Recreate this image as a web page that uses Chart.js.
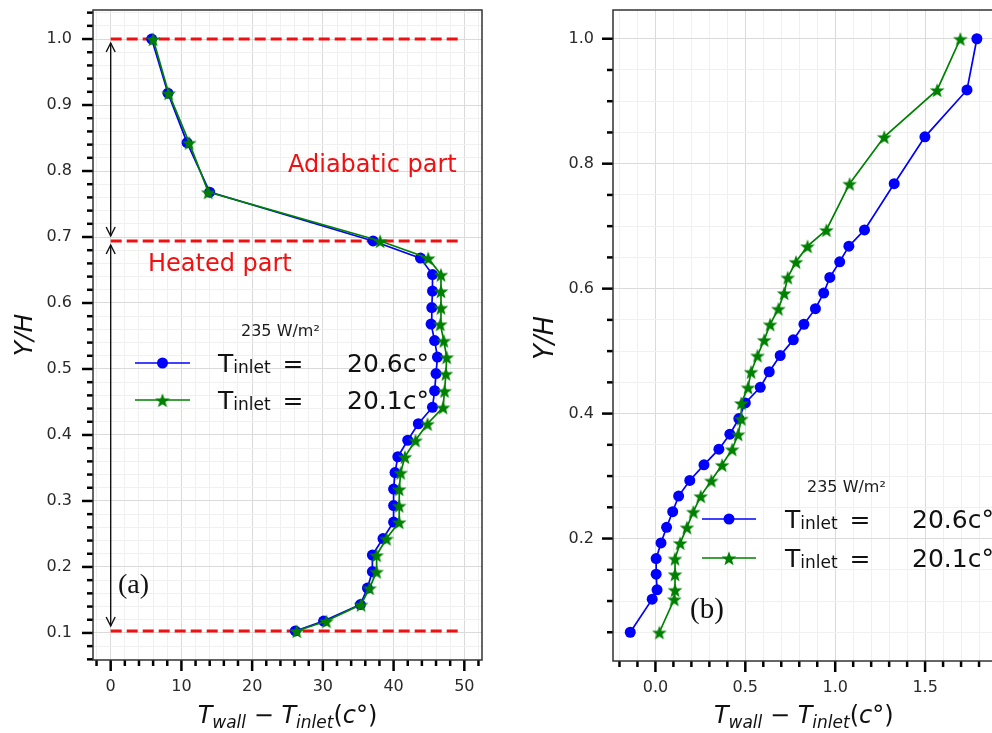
<!DOCTYPE html>
<html>
<head>
<meta charset="utf-8">
<script src="https://cdn.jsdelivr.net/npm/chart.js@4.4.1/dist/chart.umd.min.js"></script>
<style>
  html, body { margin: 0; padding: 0; background: #fff; overflow: hidden; }
  .wrap { position: absolute; top: 0; width: 500px; height: 733px; }
  #wrapA { left: 0; }
  #wrapB { left: 500px; }
</style>
</head>
<body>
<div class="wrap" id="wrapA"><canvas id="chartA"></canvas></div>
<div class="wrap" id="wrapB"><canvas id="chartB"></canvas></div>
<script>
// panel (a): Y/H stations and wall temperature rise
const yA = [0.103, 0.118, 0.143, 0.168, 0.193, 0.218, 0.243, 0.268, 0.293, 0.318,
  0.343, 0.367, 0.392, 0.417, 0.442, 0.467, 0.493, 0.518, 0.543, 0.568,
  0.593, 0.618, 0.643, 0.668, 0.694, 0.768, 0.843, 0.918, 1.0];
const blueA = [26.1, 30.1, 35.3, 36.3, 37.0, 37.0, 38.5, 40.0, 40.0, 40.0,
  40.2, 40.6, 42.0, 43.5, 45.5, 45.8, 46.0, 46.2, 45.8, 45.3,
  45.4, 45.5, 45.5, 43.8, 37.1, 14.0, 10.8, 8.1, 5.8];
const greenA = [26.3, 30.5, 35.4, 36.6, 37.6, 37.6, 39.0, 40.8, 40.8, 40.8,
  41.0, 41.6, 43.1, 44.8, 47.0, 47.2, 47.4, 47.5, 47.1, 46.6,
  46.7, 46.7, 46.7, 44.9, 38.1, 13.8, 11.1, 8.2, 6.0];

// panel (b)
const yB = [0.05, 0.103, 0.118, 0.143, 0.168, 0.193, 0.218, 0.243, 0.268, 0.293, 0.318,
  0.343, 0.367, 0.392, 0.417, 0.442, 0.467, 0.493, 0.518, 0.543, 0.568,
  0.593, 0.618, 0.643, 0.668, 0.694, 0.768, 0.843, 0.918, 1.0];
const blueB = [-0.140, -0.018, 0.009, 0.004, 0.004, 0.031, 0.062, 0.096, 0.129, 0.191, 0.270,
  0.353, 0.414, 0.464, 0.500, 0.583, 0.633, 0.694, 0.767, 0.826, 0.890,
  0.936, 0.970, 1.025, 1.076, 1.163, 1.328, 1.499, 1.733, 1.788];
const greenB = [0.022, 0.105, 0.109, 0.109, 0.109, 0.138, 0.175, 0.211, 0.252, 0.311, 0.371,
  0.427, 0.460, 0.478, 0.478, 0.515, 0.532, 0.568, 0.605, 0.638, 0.684,
  0.716, 0.736, 0.782, 0.846, 0.951, 1.080, 1.273, 1.567, 1.696];

// section boundaries (adiabatic / heated) in panel (a)
const boundaryY = [1.0, 0.694, 0.103];
const boundaryX = [0, 49.5];

// tick labels
const xMajorA = [0, 10, 20, 30, 40, 50];
const yMajorA = [0.1, 0.2, 0.3, 0.4, 0.5, 0.6, 0.7, 0.8, 0.9, 1.0];
const xMajorB = [0.0, 0.5, 1.0, 1.5];
const yMajorB = [0.2, 0.4, 0.6, 0.8, 1.0];

const fluxLabel = '235 W/m²';
const inletLabels = ['20.6c°', '20.1c°'];

const BLUE = '#0000ff';
const GREEN = '#008000';
const RED = '#f01010';
const FONT = "'DejaVu Sans'";

function steps(from, to, step) {
  const out = [];
  const n = Math.round((to - from) / step);
  for (let i = 0; i <= n; i++) out.push(+(from + i * step).toFixed(4));
  return out;
}
function isMajor(v, major) {
  return major.some(m => Math.abs(m - v) < 1e-6);
}

// filled 5-point star like matplotlib '*'
function starImage(color, size) {
  const c = document.createElement('canvas');
  c.width = c.height = size;
  const g = c.getContext('2d');
  const R = size / 2 - 0.3, r = R * 0.42, m = size / 2;
  g.beginPath();
  for (let i = 0; i < 10; i++) {
    const rad = i % 2 ? r : R;
    const ang = -Math.PI / 2 + i * Math.PI / 5;
    g.lineTo(m + rad * Math.cos(ang), m + 1 + rad * Math.sin(ang));
  }
  g.closePath();
  g.fillStyle = color;
  g.fill();
  return c;
}
const star = starImage(GREEN, 16);

function axis(min, max, minor, major, fmt, pad, size, isX) {
  return {
    type: 'linear', min, max,
    afterBuildTicks: s => { s.ticks = minor.filter(v => v >= min && v <= max).map(v => ({ value: v })); },
    afterFit: s => {
      if (isX) s.height = size; else s.width = size;
      s.paddingTop = s.paddingBottom = s.paddingLeft = s.paddingRight = 0;
    },
    grid: {
      drawTicks: false,
      lineWidth: 1,
      color: c => (c.tick && isMajor(c.tick.value, major)) ? '#dadada' : '#f0f0f0'
    },
    border: { display: false },
    ticks: {
      autoSkip: false, maxRotation: 0, padding: pad, color: '#2a2a2a',
      font: { family: FONT, size: 16 },
      callback: v => isMajor(v, major) ? fmt(v) : ''
    }
  };
}

// spines + major/minor tick marks
function framePlugin(xMajor, yMajor) {
  return {
    id: 'frame',
    afterDraw(chart) {
      const { ctx, chartArea: a, scales: { x, y } } = chart;
      ctx.save();
      ctx.strokeStyle = '#000';
      ctx.lineWidth = 2.5;
      x.ticks.forEach(t => {
        const p = x.getPixelForValue(t.value);
        const len = isMajor(t.value, xMajor) ? 11 : 6;
        ctx.beginPath(); ctx.moveTo(p, a.bottom); ctx.lineTo(p, a.bottom + len); ctx.stroke();
      });
      y.ticks.forEach(t => {
        const p = y.getPixelForValue(t.value);
        const len = isMajor(t.value, yMajor) ? 11 : 6;
        ctx.beginPath(); ctx.moveTo(a.left, p); ctx.lineTo(a.left - len, p); ctx.stroke();
      });
      ctx.strokeStyle = '#333';
      ctx.lineWidth = 1.5;
      ctx.strokeRect(a.left, a.top, a.right - a.left, a.bottom - a.top);
      ctx.restore();
    }
  };
}

function drawParts(ctx, parts, cx, base, size) {
  const font = p => `${p.it ? 'italic ' : ''}${p.sub ? Math.round(size * 0.7) : size}px ${FONT}`;
  let w = 0;
  parts.forEach(p => { ctx.font = font(p); p.w = ctx.measureText(p.t).width; w += p.w; });
  let x = cx - w / 2;
  ctx.textAlign = 'left';
  ctx.textBaseline = 'alphabetic';
  parts.forEach(p => { ctx.font = font(p); ctx.fillText(p.t, x, base + (p.sub ? 5 : 0)); x += p.w; });
}

function titles(chart, yx, yy, ySize) {
  const { ctx, chartArea: a } = chart;
  ctx.save();
  ctx.fillStyle = '#111';
  drawParts(ctx, [
    { t: 'T', it: 1 }, { t: 'wall', it: 1, sub: 1 }, { t: ' − ' },
    { t: 'T', it: 1 }, { t: 'inlet', it: 1, sub: 1 }, { t: '(' }, { t: 'c', it: 1 }, { t: '°)' }
  ], (a.left + a.right) / 2, 723, 24);
  ctx.translate(yx, yy);
  ctx.rotate(-Math.PI / 2);
  ctx.font = `italic ${ySize}px ${FONT}`;
  ctx.textAlign = 'center';
  ctx.textBaseline = 'middle';
  ctx.fillText('Y/H', 0, 0);
  ctx.restore();
}

function legend(chart, L) {
  const ctx = chart.ctx;
  ctx.save();
  ctx.fillStyle = '#1a1a1a';
  ctx.font = `16px ${FONT}`;
  ctx.textAlign = 'left';
  ctx.textBaseline = 'alphabetic';
  ctx.fillText(fluxLabel, L.titleX, L.titleBase);
  [BLUE, GREEN].forEach((col, i) => {
    const yc = L.rows[i];
    ctx.strokeStyle = col;
    ctx.lineWidth = 1.7;
    ctx.beginPath(); ctx.moveTo(L.x1, yc); ctx.lineTo(L.x2, yc); ctx.stroke();
    const mx = (L.x1 + L.x2) / 2;
    if (i === 0) {
      ctx.fillStyle = col;
      ctx.beginPath(); ctx.arc(mx, yc, 5.5, 0, Math.PI * 2); ctx.fill();
    } else {
      ctx.drawImage(star, mx - star.width / 2, yc - star.height / 2);
    }
    const base = yc + 9;
    ctx.fillStyle = '#111';
    ctx.font = `25px ${FONT}`;
    ctx.fillText('T', L.tX, base);
    let x = L.tX + ctx.measureText('T').width;
    ctx.font = `17px ${FONT}`;
    ctx.fillText('inlet', x, base + 1);
    x += ctx.measureText('inlet').width;
    ctx.font = `25px ${FONT}`;
    ctx.fillText(' =', x + 4, base);
    ctx.fillText(inletLabels[i], L.vX, base);
  });
  ctx.restore();
}

function arrow(ctx, x, y0, y1) {
  // line from y0 to y1 with open head at y1
  const dir = Math.sign(y1 - y0);
  ctx.beginPath(); ctx.moveTo(x, y0); ctx.lineTo(x, y1); ctx.stroke();
  ctx.beginPath();
  ctx.moveTo(x - 4.5, y1 - dir * 9); ctx.lineTo(x, y1); ctx.lineTo(x + 4.5, y1 - dir * 9);
  ctx.stroke();
}

const annotA = {
  id: 'annotA',
  afterDatasetsDraw(chart) {
    const { ctx, scales: { x, y } } = chart;
    ctx.save();
    ctx.strokeStyle = '#111';
    ctx.lineWidth = 1.4;
    const px = x.getPixelForValue(0);
    const [top, mid, bot] = boundaryY.map(v => y.getPixelForValue(v));
    arrow(ctx, px, (top + mid) / 2, top + 4);
    arrow(ctx, px, (top + mid) / 2, mid - 5);
    arrow(ctx, px, (mid + bot) / 2, mid + 4);
    arrow(ctx, px, (mid + bot) / 2, bot - 5);
    ctx.fillStyle = RED;
    ctx.font = `24px ${FONT}`;
    ctx.textAlign = 'left';
    ctx.fillText('Adiabatic part', 288, 172);
    ctx.fillText('Heated part', 148, 271);
    ctx.fillStyle = '#111';
    ctx.font = "28px 'Liberation Serif'";
    ctx.fillText('(a)', 118, 593);
    ctx.restore();
    legend(chart, { titleX: 241, titleBase: 336, rows: [363, 400], x1: 135, x2: 190, tX: 218, vX: 347 });
    titles(chart, 25, 335, 25);
  }
};

const annotB = {
  id: 'annotB',
  afterDatasetsDraw(chart) {
    const ctx = chart.ctx;
    ctx.save();
    ctx.fillStyle = '#111';
    ctx.font = "29px 'Liberation Serif'";
    ctx.textAlign = 'left';
    ctx.fillText('(b)', 190, 618);
    ctx.restore();
    legend(chart, { titleX: 307, titleBase: 492, rows: [519, 558], x1: 202, x2: 256, tX: 285, vX: 412 });
    titles(chart, 46, 338, 26);
  }
};

function series(xs, ys, color, isStar, order) {
  return {
    data: ys.map((v, i) => ({ x: xs[i], y: v })),
    showLine: true,
    borderColor: color,
    backgroundColor: color,
    borderWidth: 1.7,
    pointStyle: isStar ? star : 'circle',
    pointRadius: 5.5,
    pointBorderWidth: 0,
    order
  };
}

const baseOpts = {
  responsive: true,
  maintainAspectRatio: false,
  animation: false,
  events: [],
  plugins: { legend: { display: false }, tooltip: { enabled: false } }
};

new Chart(document.getElementById('chartA'), {
  type: 'scatter',
  data: {
    datasets: [
      series(blueA, yA, BLUE, false, 1),
      series(greenA, yA, GREEN, true, 0),
      ...boundaryY.map(v => ({
        data: boundaryX.map(bx => ({ x: bx, y: v })),
        showLine: true,
        borderColor: RED,
        borderWidth: 3,
        borderDash: [11, 5],
        pointRadius: 0,
        order: 2
      }))
    ]
  },
  options: {
    ...baseOpts,
    layout: { padding: { top: 10, right: 18, left: 0, bottom: 0 } },
    scales: {
      x: axis(-2.5, 52.5, steps(-2, 52, 2), xMajorA, v => v.toFixed(0), 17, 73, true),
      y: axis(0.059, 1.044, steps(0.06, 1.04, 0.02), yMajorA, v => v.toFixed(1), 21, 93, false)
    }
  },
  plugins: [annotA, framePlugin(xMajorA, yMajorA)]
});

new Chart(document.getElementById('chartB'), {
  type: 'scatter',
  data: {
    datasets: [
      series(blueB, yB, BLUE, false, 1),
      series(greenB, yB, GREEN, true, 0)
    ]
  },
  options: {
    ...baseOpts,
    layout: { padding: { top: 10, right: 2, left: 0, bottom: 0 } },
    scales: {
      x: axis(-0.236, 1.886, steps(-0.2, 1.8, 0.1), xMajorB, v => v.toFixed(1), 17, 72, true),
      y: axis(0.004, 1.046, steps(0.05, 1.0, 0.05), yMajorB, v => v.toFixed(1), 19, 113, false)
    }
  },
  plugins: [annotB, framePlugin(xMajorB, yMajorB)]
});
</script>
</body>
</html>
